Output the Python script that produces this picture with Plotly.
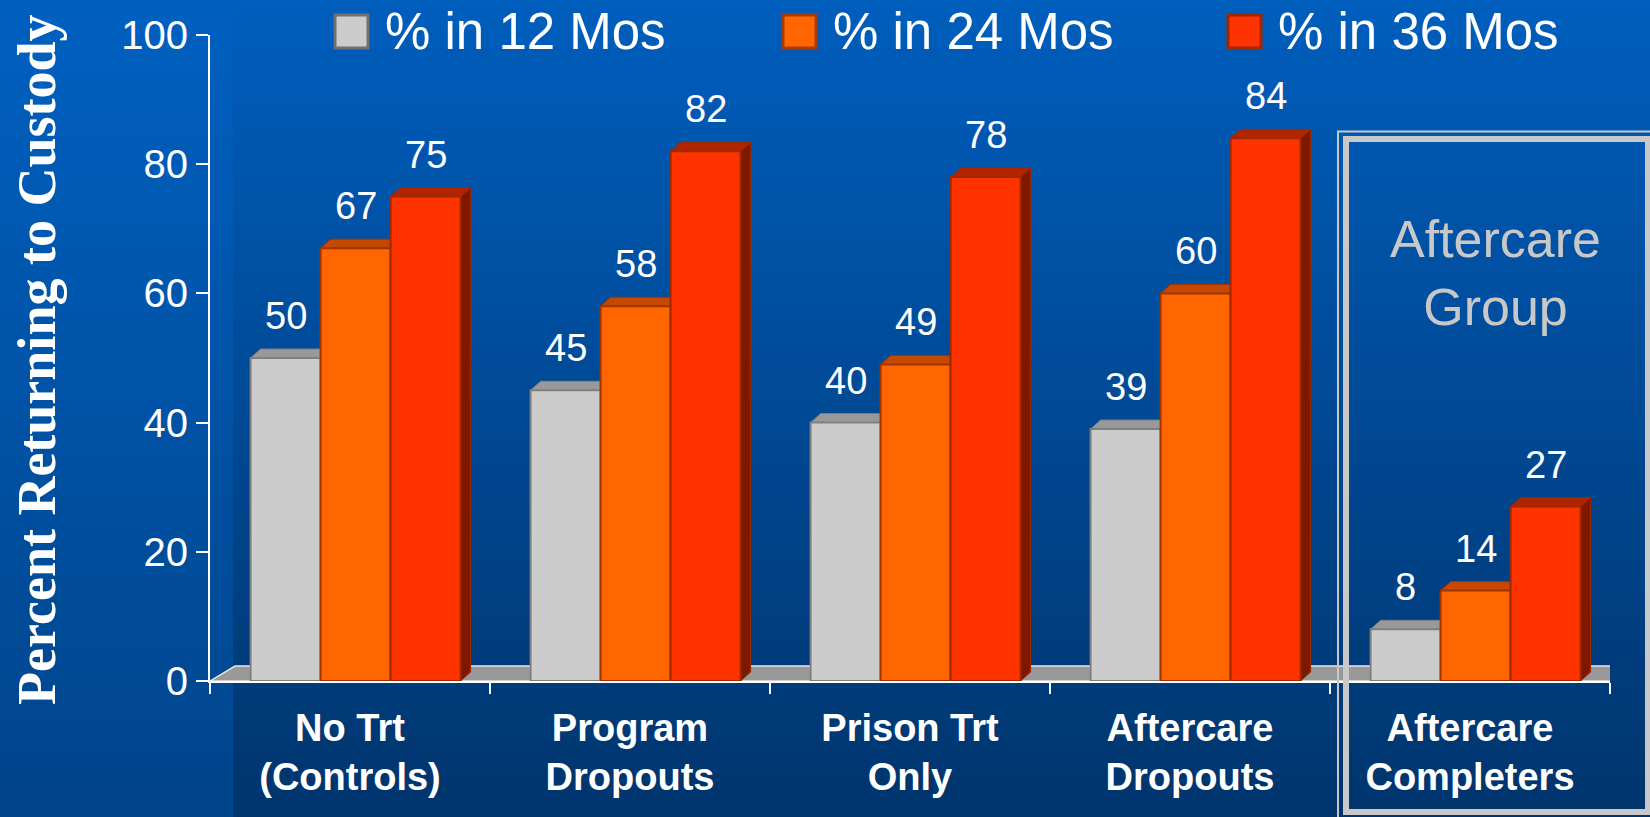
import plotly.graph_objects as go

# ---- data -------------------------------------------------------------
categories = [
    "No Trt<br>(Controls)",
    "Program<br>Dropouts",
    "Prison Trt<br>Only",
    "Aftercare<br>Dropouts",
    "Aftercare<br>Completers",
]
series_names = ["% in 12 Mos", "% in 24 Mos", "% in 36 Mos"]
pct_12 = [50, 45, 40, 39, 8]
pct_24 = [67, 58, 49, 60, 14]
pct_36 = [75, 82, 78, 84, 27]
y_ticks = [0, 20, 40, 60, 80, 100]
y_title = "Percent Returning to Custody"
box_title = "Aftercare<br>Group"

series_values = [pct_12, pct_24, pct_36]

# ---- styling ------------------------------------------------------------
front_colors = ["#cccccc", "#ff6600", "#ff3300"]
edge_colors = ["#808080", "#a33300", "#a02800"]
top_colors = ["#999999", "#c44800", "#b02400"]
side_colors = ["#6f6f6f", "#8a2a00", "#7e1800"]
legend_edge = ["#707070", "#b03800", "#a02800"]

SANS = "Liberation Sans, Arial, Helvetica, sans-serif"
SERIF = "Liberation Serif, Times New Roman, serif"

W, H = 1650, 817
M_L, M_R, M_T, M_B = 210, 40, 35, 136
PLOT_W = W - M_L - M_R
PLOT_H = H - M_T - M_B
X_RANGE = [-0.5, len(categories) - 0.5]
Y_RANGE = [0, 100]
PX_PER_X = PLOT_W / (X_RANGE[1] - X_RANGE[0])
PX_PER_Y = PLOT_H / (Y_RANGE[1] - Y_RANGE[0])

BAR_W = 0.25          # width of each bar in category units
GROUP_SHIFT = 0.02    # bars sit slightly right of the group centre (3D look)
DEPTH_DX = 10 / PX_PER_X   # receding depth of bar boxes
DEPTH_DY = 9 / PX_PER_Y
FLOOR_DX = 25 / PX_PER_X   # receding depth of the floor
FLOOR_DY = 15 / PX_PER_Y


def paper_x(px):
    return (px - M_L) / PLOT_W


def paper_y(py):
    return (H - M_B - py) / PLOT_H


def lerp_color(c0, c1, t):
    a = [int(c0[i:i + 2], 16) for i in (1, 3, 5)]
    b = [int(c1[i:i + 2], 16) for i in (1, 3, 5)]
    return "#" + "".join(f"{round(a[i] + (b[i] - a[i]) * t):02x}" for i in range(3))


shapes = []

# ---- background: vertical gradients (left strip + darker panel) --------
STRIP_X = 233
BAND = 8
n_bands = H // BAND + 1
for i in range(n_bands):
    y0, y1 = i * BAND, (i + 1) * BAND + 1
    t = (i + 0.5) / n_bands
    for x0, x1, top, bot in ((0, STRIP_X, "#0060c0", "#00448a"),
                             (STRIP_X, W, "#005ebd", "#00346c")):
        shapes.append(dict(
            type="rect", xref="paper", yref="paper", layer="below",
            x0=paper_x(x0), x1=paper_x(x1), y0=paper_y(y1), y1=paper_y(y0),
            fillcolor=lerp_color(top, bot, t), line=dict(width=0),
        ))

# ---- 3D floor ----------------------------------------------------------
fx0, fx1 = X_RANGE
shapes.append(dict(
    type="path", layer="below",
    path=(f"M {fx0},0 L {fx1},0 L {fx1 + FLOOR_DX},{FLOOR_DY} "
          f"L {fx0 + FLOOR_DX},{FLOOR_DY} Z"),
    fillcolor="#999999", line=dict(color="#e6e6e6", width=1.5),
))

# ---- bars + their receding faces ---------------------------------------
fig = go.Figure()
annotations = []
for k, (name, vals) in enumerate(zip(series_names, series_values)):
    centers = [i + GROUP_SHIFT + (k - 1) * BAR_W for i in range(len(categories))]
    fig.add_trace(go.Bar(
        x=centers, y=vals, width=BAR_W, name=name, showlegend=False,
        marker=dict(color=front_colors[k], line=dict(color=edge_colors[k], width=2)),
        hoverinfo="name+y",
    ))
    for xc, v in zip(centers, vals):
        xl, xr = xc - BAR_W / 2, xc + BAR_W / 2
        # side face
        shapes.append(dict(
            type="path", layer="below",
            path=(f"M {xr},0 L {xr + DEPTH_DX},{DEPTH_DY} "
                  f"L {xr + DEPTH_DX},{v + DEPTH_DY} L {xr},{v} Z"),
            fillcolor=side_colors[k], line=dict(color=edge_colors[k], width=1),
        ))
        # top face
        shapes.append(dict(
            type="path", layer="below",
            path=(f"M {xl},{v} L {xr},{v} L {xr + DEPTH_DX},{v + DEPTH_DY} "
                  f"L {xl + DEPTH_DX},{v + DEPTH_DY} Z"),
            fillcolor=top_colors[k], line=dict(color=edge_colors[k], width=1),
        ))
        # value label
        annotations.append(dict(
            x=xc, y=v, text=str(v), showarrow=False, yshift=42,
            xanchor="center", yanchor="middle",
            font=dict(family=SANS, size=38, color="white"),
        ))

# ---- legend (large swatches across the top) -----------------------------
legend_sw_x = [335, 783, 1228]
for k, name in enumerate(series_names):
    sx = legend_sw_x[k]
    shapes.append(dict(
        type="rect", xref="paper", yref="paper", layer="above",
        x0=paper_x(sx), x1=paper_x(sx + 33), y0=paper_y(48), y1=paper_y(15),
        fillcolor=front_colors[k], line=dict(color=legend_edge[k], width=3),
    ))
    annotations.append(dict(
        xref="paper", yref="paper", x=paper_x(sx + 48), y=paper_y(32),
        text=name, showarrow=False, xanchor="left", yanchor="middle",
        font=dict(family=SANS, size=51, color="white"),
    ))

# ---- "Aftercare Group" frame (double border) ----------------------------
shapes.append(dict(
    type="rect", xref="paper", yref="paper", layer="above",
    x0=paper_x(1338), x1=paper_x(1670), y0=paper_y(840), y1=paper_y(131.5),
    line=dict(color="#c8c8c8", width=2),
))
shapes.append(dict(
    type="rect", xref="paper", yref="paper", layer="above",
    x0=paper_x(1346), x1=paper_x(1648), y0=paper_y(812), y1=paper_y(139),
    line=dict(color="#c8c8c8", width=6),
))
annotations.append(dict(
    xref="paper", yref="paper", x=paper_x(1495), y=paper_y(273),
    text=box_title, showarrow=False, xanchor="center", yanchor="middle",
    font=dict(family=SANS, size=52, color="#c8c8c8"),
))

# ---- y axis title --------------------------------------------------------
annotations.append(dict(
    xref="paper", yref="paper", x=paper_x(37), y=paper_y(360),
    text=f"<b>{y_title}</b>", showarrow=False, textangle=-90,
    xanchor="center", yanchor="middle",
    font=dict(family=SERIF, size=54, color="white"),
))

fig.update_layout(
    width=W, height=H,
    margin=dict(l=M_L, r=M_R, t=M_T, b=M_B),
    paper_bgcolor="#004a96", plot_bgcolor="rgba(0,0,0,0)",
    barmode="overlay", showlegend=False,
    shapes=shapes, annotations=annotations,
    template="none",
)
fig.update_xaxes(
    range=X_RANGE, automargin=False,
    tickmode="array", tickvals=list(range(len(categories))), ticktext=categories,
    ticks="", showgrid=False, zeroline=False,
    showline=True, linecolor="white", linewidth=2,
    ticklabelstandoff=12,
    tickfont=dict(family=SANS, size=38, color="white", weight="bold"),
    minor=dict(tickmode="array",
               tickvals=[i - 0.5 for i in range(len(categories) + 1)],
               ticks="outside", ticklen=11, tickwidth=2, tickcolor="white",
               showgrid=False),
)
fig.update_yaxes(
    range=Y_RANGE, automargin=False,
    tickmode="array", tickvals=y_ticks,
    ticks="outside", ticklen=12, tickwidth=2, tickcolor="white",
    showgrid=False, zeroline=False,
    showline=True, linecolor="white", linewidth=2,
    tickfont=dict(family=SANS, size=40, color="white"),
)

fig.write_html("out.html")
